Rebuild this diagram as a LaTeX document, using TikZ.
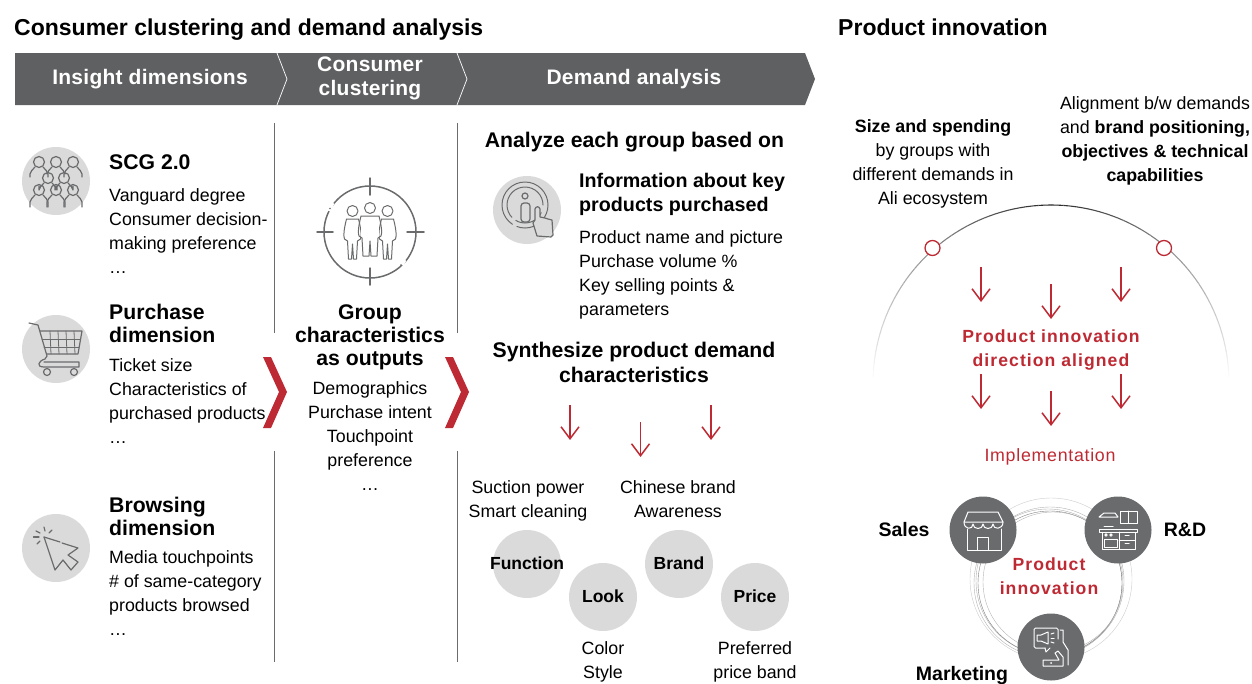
\documentclass[tikz,border=0pt]{standalone}
\usepackage{fontspec}
\setmainfont{Liberation Sans}
\newfontfamily\spa[LetterSpace=1.2]{Liberation Sans}
\newfontfamily\spc[LetterSpace=4]{Liberation Sans}
\newfontfamily\spb[LetterSpace=6]{Liberation Sans}
\usetikzlibrary{arrows.meta}
\definecolor{redc}{HTML}{BE2A33}
\definecolor{darkc}{HTML}{5F6062}
\definecolor{greyc}{HTML}{DADADA}
\definecolor{iconc}{HTML}{6A6B6D}
\newcommand\ml[1]{\begin{tabular}[t]{@{}l@{}}#1\end{tabular}}
\newcommand\mc[1]{\begin{tabular}[t]{@{}c@{}}#1\end{tabular}}
\newcommand\redarrow[4]{\coordinate (#1s) at (#2,#3); \coordinate (#1e) at (#2,#4); \draw[redarr] (#1s) -- (#1e);}
\newcommand\psn[3]{\draw[icon] (#1,#2) circle[radius=5.5pt];
 \draw[icon] ({#1-9},{#2+#3}) -- ({#1-9},{#2+12}) .. controls ({#1-9},{#2+9}) and ({#1-6},{#2+8}) .. ({#1-4},{#2+5});
 \draw[icon] ({#1+9},{#2+#3}) -- ({#1+9},{#2+12}) .. controls ({#1+9},{#2+9}) and ({#1+6},{#2+8}) .. ({#1+4},{#2+5});}
\newcommand\tgt[3]{\draw[icon,line width=1pt] (#1,#2) circle[radius=5.5pt];
 \draw[icon,line width=1pt] ({#1-#3},{#2+8}) .. controls ({#1-#3-3},{#2+20}) and ({#1-#3-3},{#2+25}) .. ({#1-#3-2},{#2+28}) -- ({#1-#3+1},{#2+30}) -- ({#1-#3+2},{#2+48}) -- ({#1-1},{#2+48}) -- ({#1},{#2+33}) -- ({#1+1},{#2+48}) -- ({#1+#3-2},{#2+48}) -- ({#1+#3-1},{#2+30}) -- ({#1+#3+2},{#2+28}) .. controls ({#1+#3+3},{#2+25}) and ({#1+#3+3},{#2+20}) .. ({#1+#3},{#2+8}) -- cycle;}
\tikzset{
 x=1pt,y=-1pt,
 body/.style={font=\fontsize{17.8}{24}\selectfont,inner sep=0pt,text=black},
 lft/.style={anchor=base west},
 ctr/.style={anchor=base},
 head/.style={font=\fontsize{21.2}{23}\bfseries\selectfont,inner sep=0pt},
 title/.style={font=\fontsize{23}{26}\bfseries\selectfont,inner sep=0pt,anchor=base west},
 bar/.style={font=\fontsize{21}{24}\bfseries\spa\selectfont,inner sep=0pt,text=white,anchor=base},
 redt/.style={font=\fontsize{17.6}{24}\bfseries\spb\selectfont,inner sep=0pt,text=redc,anchor=base},
 redarr/.style={draw=redc,line width=1.5pt,-{Straight Barb[length=12pt,width=18pt,line width=1.5pt]}},
 icon/.style={draw=iconc,line width=1.2pt,line cap=round,line join=round},
 wic/.style={draw=white,line width=1pt,line join=round,line cap=round},
 sep/.style={draw=iconc,line width=1pt},
 disc/.style={circle,fill=greyc,minimum size=68pt,inner sep=0pt},
 ddisc/.style={circle,fill=iconc,minimum size=67pt,inner sep=0pt},
 chev/.style={fill=redc},
 ring/.style={draw=black!30,line width=.4pt},
 captext/.style={font=\fontsize{17.5}{24}\bfseries\selectfont,inner sep=0pt,text=black},
 lab/.style={font=\fontsize{19.5}{24}\bfseries\selectfont,inner sep=0pt,text=black,anchor=base},
}
\begin{document}
\begin{tikzpicture}
\useasboundingbox (0,0) rectangle (1252,683);
% titles
\node[title] (t1) at (14,35) {Consumer clustering and demand analysis};
\node[title] (t2) at (838,35) {Product innovation};
% header bar
\fill[darkc] (15,53) -- (805,53) -- (815,79) -- (805,105) -- (15,105) -- cycle;
\draw[white,line width=.7pt] (277,53) -- (287,79) -- (277,105);
\draw[white,line width=.7pt] (457,53) -- (467,79) -- (457,105);
\node[bar] (b1) at (150,84) {Insight dimensions};
\node[bar] (b2) at (370,71.5) {\mc{Consumer\\clustering}};
\node[bar] (b3) at (634,84) {Demand analysis};
% separators
\draw[sep] (274.5,123) -- (274.5,333);
\draw[sep] (274.5,451) -- (274.5,662);
\draw[sep] (457,123) -- (457,333);
\draw[sep] (457,451) -- (457,662);
% chevrons
\fill[chev] (263,357) -- (271,357) -- (287,392) -- (271,428) -- (263,428) -- (279,392) -- cycle;
\fill[chev] (445,357) -- (453,357) -- (469,392) -- (453,428) -- (445,428) -- (461,392) -- cycle;
% left icons
\node[disc] (d1) at (56,181) {};
\node[disc] (d2) at (56,349) {};
\node[disc] (d3) at (56,548) {};
\psn{39}{162}{15}\psn{56}{162}{11}\psn{73}{162}{15}
\psn{48}{178}{8}\psn{64}{178}{8}
\psn{39}{190}{17}\psn{56}{190}{17}\psn{73}{190}{17}
% cart
\draw[icon] (29,323) -- (38,325) -- (47,356) -- (45,359) .. controls (38,361) and (36,367) .. (44,367) -- (79,367) -- (79,362) -- (44,362);
\draw[icon] (40,331) -- (82,331) -- (78,354) -- (47,354);
\foreach \q in {50,58,66,74}{\draw[icon,line width=.8pt] (\q,331) -- ({\q+1},354);}
\draw[icon,line width=.8pt] (42,339) -- (80,339);
\draw[icon,line width=.8pt] (44,347) -- (79,347);
\draw[icon] (47,372) circle[radius=3.5pt];
\draw[icon] (74,372) circle[radius=3.5pt];
% cursor
\draw[icon] (44,537) -- (60,542);
\draw[icon] (62,543) -- (78,548) -- (68,555) -- (78,562) -- (71,570) -- (63,560) -- (55,570) -- (44,537);
\draw[icon] (33.5,537) -- (39,537);
\draw[icon] (36,531) -- (40,533);
\draw[icon] (37,544) -- (40,541);
\draw[icon] (44,527) -- (45,531);
\draw[icon] (52,530) -- (49,533);
% left text
\node[head,lft] (s1h) at (109,169) {SCG 2.0};
\node[body,lft] (s1b) at (109,201) {\ml{Vanguard degree\\Consumer decision-\\making preference\\…}};
\node[head,lft] (s2h) at (109,319) {\ml{Purchase\\dimension}};
\node[body,lft] (s2b) at (109,371) {\ml{Ticket size\\Characteristics of\\purchased products\\…}};
\node[head,lft] (s3h) at (109,512) {\ml{Browsing\\dimension}};
\node[body,lft] (s3b) at (109,563) {\ml{Media touchpoints\\\# of same-category\\products browsed\\…}};
% target icon
\draw[icon,line width=1.5pt] (370,232) circle[radius=46pt];
\draw[white,line width=3pt] (329,211) -- (333,203);
\draw[white,line width=3pt] (402,265) -- (405,260);
\fill[iconc] (330,208.5) circle[radius=.9pt];
\fill[iconc] (401,265) circle[radius=.9pt];
\draw[icon,line width=1.5pt] (370,178) -- (370,195);
\draw[icon,line width=1.5pt] (370,268) -- (370,285);
\draw[icon,line width=1.5pt] (317,232) -- (333,232);
\draw[icon,line width=1.5pt] (407,232) -- (424,232);
\tgt{352.5}{211}{6}
\tgt{387.5}{211}{6}
\fill[white] (361,212) rectangle (379,262);
\tgt{370}{208}{9}
% center text
\node[head,ctr] (c1) at (370,319) {\mc{Group\\characteristics\\as outputs}};
\node[body,ctr] (c2) at (370,394) {\mc{Demographics\\Purchase intent\\Touchpoint\\preference\\…}};
% info icon
\node[disc] (d4) at (527,210) {};
\draw[icon,line width=1pt,dash pattern=on 95pt off 5pt on 25pt off 5pt on 15pt off 4pt] (525,205) circle[radius=23pt];
\draw[icon,line width=1pt,dash pattern=on 70pt off 5pt on 30pt off 8pt] (525,205) circle[radius=18pt];
\draw[icon] (525,196) circle[radius=3pt];
\draw[icon,rounded corners=3pt] (521,203) -- (530,203) -- (530,222) -- (521,222) -- cycle;
\draw[icon,fill=greyc] (537,236) -- (533,223) -- (535,220) -- (535,209) .. controls (536,206) and (539,206) .. (540,209) -- (540,217) -- (545,218) -- (548,219) -- (552,220) -- (553,235) -- (551,237) -- cycle;
% middle right text
\node[head,ctr] (r1) at (634.5,147) {Analyze each group based on};
\node[font=\fontsize{19.7}{24}\bfseries\selectfont,inner sep=0pt,lft] (r2) at (579,187.5) {\ml{Information about key\\products purchased}};
\node[body,lft] (r3) at (579,243) {\ml{Product name and picture\\Purchase volume \%\\Key selling points \&\\parameters}};
\node[font=\fontsize{21.2}{25}\bfseries\selectfont,inner sep=0pt,ctr] (r4) at (634,357.5) {\mc{Synthesize product demand\\characteristics}};
\redarrow{m1}{570}{405}{440}
\redarrow{m2}{640.5}{422}{457}
\redarrow{m3}{711}{405}{440}
\node[body,ctr] (r5) at (528,493) {\mc{Suction power\\Smart cleaning}};
\node[body,ctr] (r6) at (678,493) {\mc{Chinese brand\\Awareness}};
\node[disc] (f1) at (527,564) {};
\node[disc] (f2) at (603,597) {};
\node[disc] (f3) at (679,564) {};
\node[disc] (f4) at (755,597) {};
\node[captext] (f1t) at (527,563) {Function};
\node[captext] (f2t) at (603,596) {Look};
\node[captext] (f3t) at (679,563) {Brand};
\node[captext] (f4t) at (755,596) {Price};
\node[body,ctr] (r7) at (603,654) {\mc{Color\\Style}};
\node[body,ctr] (r8) at (755,654) {\mc{Preferred\\price band}};
% right
\node[body,ctr] (q1) at (933,132) {\mc{\textbf{Size and spending}\\by groups with\\different demands in\\Ali ecosystem}};
\node[body,ctr] (q2) at (1155,109) {\mc{Alignment b/w demands\\and \textbf{brand positioning,}\\\textbf{objectives \& technical}\\\textbf{capabilities}}};
\foreach \a in {0,2,...,178}{
 \pgfmathtruncatemacro\dd{abs(\a+1-90)}
 \pgfmathtruncatemacro\pp{85*(1-\dd/90)}
 \draw[black!\pp!white,line width=1.1pt] ({1051+178*cos(\a)},{383-178*sin(\a)}) -- ({1051+178*cos(\a+2)},{383-178*sin(\a+2)});
}
\node[circle,draw=redc,fill=white,line width=1.3pt,minimum size=15pt,inner sep=0pt] (o1) at (932.5,248) {};
\node[circle,draw=redc,fill=white,line width=1.3pt,minimum size=15pt,inner sep=0pt] (o2) at (1164,248) {};
\redarrow{a1}{981}{267}{302}
\redarrow{a2}{1051}{284}{319}
\redarrow{a3}{1121}{267}{302}
\node[redt] (p1) at (1051,342) {\mc{Product innovation\\direction aligned}};
\redarrow{a4}{981}{374}{409}
\redarrow{a5}{1051}{391}{426}
\redarrow{a6}{1121}{374}{409}
\node[font=\fontsize{17.8}{24}\spc\selectfont,text=redc,inner sep=0pt,anchor=base] (p2) at (1050,461) {Implementation};
% rings
\draw[ring,draw=black!20] (1051,579) circle[radius=81pt];
\draw[ring] (1050,581) circle[radius=74pt];
\draw[ring] (1048,583) circle[radius=74pt];
\draw[ring,draw=black!50] (1050,583) circle[radius=72pt];
\draw[ring] (1053,582) circle[radius=70pt];
\node[ddisc] (g1) at (983,530) {};
\node[ddisc] (g2) at (1118,530) {};
\node[ddisc] (g3) at (1051,647) {};
% store
\draw[wic] (968,512) -- (998,512) -- (1003,522) -- (964,522) -- cycle;
\draw[wic] (964,522) .. controls (964,530) and (973,530) .. (973,524) .. controls (973,530) and (983,530) .. (983,524) .. controls (983,530) and (993,530) .. (993,524) .. controls (993,530) and (1003,530) .. (1003,522);
\draw[wic] (967,529) -- (967,550) -- (1001,550) -- (1001,529);
\draw[wic] (977,550) -- (977,537) -- (988,537) -- (988,550);
% kitchen
\draw[wic] (1099,517) -- (1118,517) -- (1115,513) -- (1104,513) -- cycle;
\draw[wic] (1120,511) rectangle (1137,523);
\draw[wic] (1128.5,511) -- (1128.5,523);
\draw[wic] (1104,526) -- (1113,526);
\draw[wic] (1099,529) rectangle (1137,532);
\draw[wic] (1102,532) rectangle (1135,549);
\draw[wic] (1119,532) -- (1119,549);
\draw[wic] (1119,540) -- (1135,540);
\draw[wic] (1104,539) rectangle (1117,547);
\draw[wic] (1106,535) circle[radius=1.2pt];
\draw[wic] (1111,535) circle[radius=1.2pt];
\draw[wic] (1125,535.5) -- (1129,535.5);
\draw[wic] (1125,543.5) -- (1129,543.5);
% marketing
\draw[wic,rounded corners=1.5pt] (1045,648) -- (1034,648) -- (1034,628) -- (1058,628) -- (1058,639);
\draw[wic] (1045,648) -- (1046,652) -- (1050,648);
\draw[wic] (1037,635) -- (1041,635) -- (1048,632) -- (1048,644) -- (1041,641) -- (1037,641) -- cycle;
\draw[wic] (1051,634) -- (1054,633);
\draw[wic] (1051,638) -- (1054,638);
\draw[wic] (1051,642) -- (1054,643);
\draw[wic] (1060,630) -- (1063,630) -- (1063,642) -- (1068,650) -- (1068,665);
\draw[wic] (1043,660) -- (1043,666) -- (1063,666) -- (1063,657) -- (1058,651) -- (1055,653) -- (1059,660) -- (1043,660);
\fill[white] (1051,663) circle[radius=1pt];
\node[lab] (l1) at (904,536) {Sales};
\node[lab] (l2) at (1185,536) {R\&D};
\node[lab] (l3) at (962,680) {Marketing};
\node[redt] (p3) at (1049,570) {\mc{Product\\innovation}};
\end{tikzpicture}
\end{document}
